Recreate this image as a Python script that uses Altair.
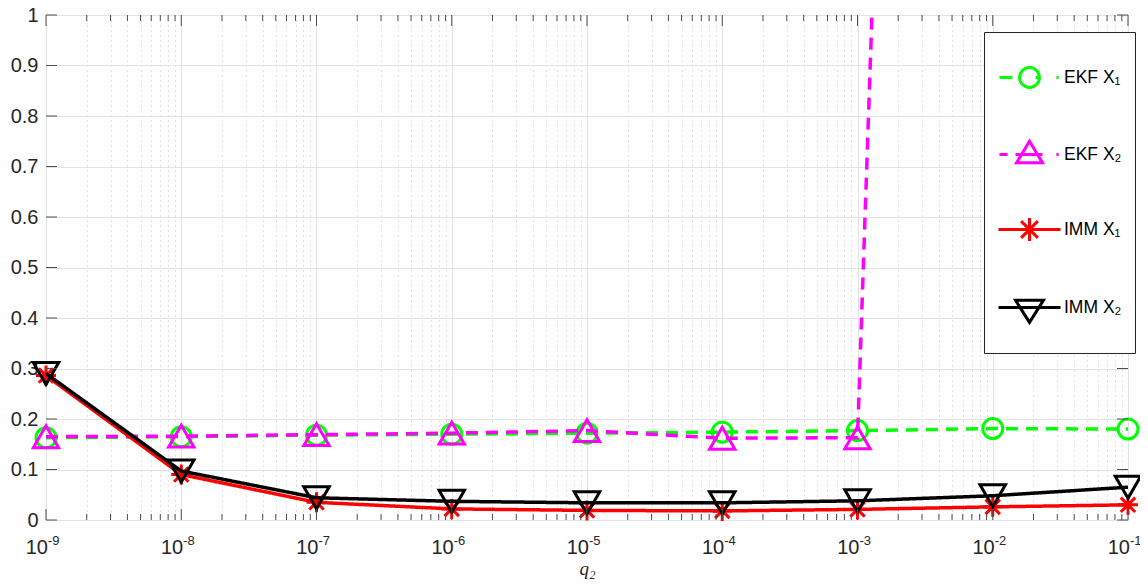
import altair as alt
import pandas as pd

# ---------------- data ----------------
q2 = [1e-9, 1e-8, 1e-7, 1e-6, 1e-5, 1e-4, 1e-3, 1e-2, 1e-1]
ekf_x1 = [0.163, 0.165, 0.168, 0.170, 0.172, 0.174, 0.177, 0.181, 0.180]
ekf_x2 = [0.165, 0.166, 0.169, 0.172, 0.177, 0.162, 0.163, 8.0, 9.0]
imm_x1 = [0.286, 0.090, 0.035, 0.022, 0.019, 0.018, 0.021, 0.026, 0.030]
imm_x2 = [0.290, 0.097, 0.044, 0.037, 0.034, 0.034, 0.038, 0.048, 0.065]
series_names = ["EKF X₁", "EKF X₂", "IMM X₁", "IMM X₂"]
series_values = [ekf_x1, ekf_x2, imm_x1, imm_x2]

x_major_ticks = [1e-9, 1e-8, 1e-7, 1e-6, 1e-5, 1e-4, 1e-3, 1e-2, 1e-1]
x_tick_base = ["10"] * 9
x_tick_exponent = ["-9", "-8", "-7", "-6", "-5", "-4", "-3", "-2", "-1"]
x_minor_ticks = [m * 10.0 ** e for e in range(-9, -1) for m in range(2, 10)]
y_ticks = [0, 0.1, 0.2, 0.3, 0.4, 0.5, 0.6, 0.7, 0.8, 0.9, 1]

# ---------------- styles ----------------
colors = ["#00ff00", "#ff00ff", "#ff0000", "#000000"]
dashes = [[12, 8], [12, 8], [1, 0], [1, 0]]
STAR = "M0,-1L0,1M-1,0L1,0M-0.72,-0.72L0.72,0.72M-0.72,0.72L0.72,-0.72"
shapes = ["circle", "triangle-up", STAR, "triangle-down"]
sizes = [400, 640, 400, 650]

legend_paths = [
    "M-0.97,0L-0.55,0M0.2,0L0.36,0M0.87,0L0.94,0"
    "M0.32,0A0.32,0.32 0 1,1 -0.32,0A0.32,0.32 0 1,1 0.32,0",
    "M-0.97,0L-0.71,0M-0.45,0L0.42,0M0.87,0L0.94,0"
    "M0,-0.43L-0.42,0.27L0.42,0.27Z",
    "M-1,0L1,0M0,-0.37L0,0.37M-0.27,-0.27L0.27,0.27M-0.27,0.27L0.27,-0.27",
    "M-1,0L1,0M-0.45,-0.23L0.45,-0.23L0,0.48Z",
]

W, H = 1082, 505
FONT = "Liberation Sans"
TXT = "#262626"
AX = "#4d4d4d"

rows = []
for name, vals in zip(series_names, series_values):
    for xv, yv in zip(q2, vals):
        rows.append({"x": xv, "y": yv, "s": name})
df = pd.DataFrame(rows)

is_major = "abs(log(datum.value)/LN10 - round(log(datum.value)/LN10)) < 0.001"

x_scale = alt.Scale(type="log", domain=[1e-9, 1e-1], nice=False)
y_scale = alt.Scale(domain=[0, 1], nice=False, zero=False)

x_axis = alt.Axis(
    values=x_major_ticks + x_minor_ticks,
    grid=True,
    gridColor={"condition": {"test": is_major, "value": "#e3e3e3"}, "value": "#c4c4c4"},
    gridDash={"condition": {"test": is_major, "value": []}, "value": [1, 4]},
    ticks=False,
    domain=False,
    labels=False,
    title="q₂",
    titleFont="Liberation Serif",
    titleFontStyle="italic",
    titleFontWeight="normal",
    titleFontSize=19,
    titleColor=TXT,
    titlePadding=39,
)
y_axis = alt.Axis(
    values=y_ticks,
    grid=True,
    gridColor="#e3e3e3",
    ticks=False,
    domain=False,
    format="~g",
    labelFont=FONT,
    labelFontSize=20,
    labelColor=TXT,
    labelPadding=8,
    title=None,
)

X = alt.X("x:Q", scale=x_scale, axis=x_axis)
Y = alt.Y("y:Q", scale=y_scale, axis=y_axis)

base = alt.Chart(df)
layers = []
for i, name in enumerate(series_names):
    sub = base.transform_filter(alt.datum.s == name)
    layers.append(
        sub.mark_line(
            clip=True, color=colors[i], strokeWidth=3.5, strokeDash=dashes[i]
        ).encode(x=X, y=Y)
    )
    layers.append(
        sub.transform_filter(alt.datum.y <= 1)
        .mark_point(
            shape=shapes[i], size=sizes[i], filled=False, strokeWidth=3,
            color=colors[i], opacity=1,
        )
        .encode(x=X, y=Y)
    )

# inward ticks (MATLAB style)
tick_df_major = pd.DataFrame({"x": x_major_ticks})
tick_df_minor = pd.DataFrame({"x": x_minor_ticks})
tick_df_y = pd.DataFrame({"y": y_ticks})
for tdf, L in [(tick_df_major, 11), (tick_df_minor, 6)]:
    layers.append(alt.Chart(tdf).mark_rule(color=AX, strokeWidth=1).encode(
        x=X, y=alt.value(H), y2=alt.value(H - L)))
    layers.append(alt.Chart(tdf).mark_rule(color=AX, strokeWidth=1).encode(
        x=X, y=alt.value(0), y2=alt.value(L)))
layers.append(alt.Chart(tick_df_y).mark_rule(color=AX, strokeWidth=1).encode(
    y=Y, x=alt.value(0), x2=alt.value(11)))
layers.append(alt.Chart(tick_df_y).mark_rule(color=AX, strokeWidth=1).encode(
    y=Y, x=alt.value(W), x2=alt.value(W - 11)))

# x tick labels: 10 with a raised exponent
lab_df = pd.DataFrame({"x": x_major_ticks, "b": x_tick_base, "e": x_tick_exponent})
layers.append(
    alt.Chart(lab_df).mark_text(
        font=FONT, fontSize=20, color=TXT, align="right", baseline="alphabetic", dx=2
    ).encode(x=X, y=alt.value(H + 34), text="b:N")
)
layers.append(
    alt.Chart(lab_df).mark_text(
        font=FONT, fontSize=13, color=TXT, align="left", baseline="alphabetic", dx=2
    ).encode(x=X, y=alt.value(H + 25), text="e:N")
)

# legend-only layer
leg_kwargs = dict(
    title=" ",
    titleOrient="bottom",
    titleFontSize=2,
    titlePadding=10,
    orient="none",
    legendX=938,
    legendY=17,
    padding=13,
    rowPadding=28,
    labelOffset=2,
    labelFont=FONT,
    labelFontSize=17.5,
    labelColor="#000000",
    symbolSize=3844,
    symbolStrokeWidth=3,
    strokeColor=TXT,
    fillColor="#ffffff",
)
leg_df = pd.DataFrame({"s": series_names, "x": [1e-5] * 4, "y": [0.5] * 4})
legend_layer = (
    alt.Chart(leg_df)
    .transform_filter("false")
    .mark_point(filled=False, strokeWidth=3, opacity=1, size=3844)
    .encode(
        x=X,
        y=Y,
        color=alt.Color(
            "s:N",
            scale=alt.Scale(domain=series_names, range=colors),
            legend=alt.Legend(**leg_kwargs),
        ),
        shape=alt.Shape(
            "s:N",
            scale=alt.Scale(domain=series_names, range=legend_paths),
            legend=alt.Legend(**leg_kwargs),
        ),
    )
)
layers.append(legend_layer)

chart = (
    alt.layer(*layers)
    .properties(
        width=W,
        height=H,
        autosize=alt.AutoSizeParams(type="none"),
        padding={"left": 38, "top": 7, "right": 12, "bottom": 59},
    )
    .configure_view(stroke=AX, strokeWidth=1)
    .configure(background="#ffffff")
)

chart.save("out.html", embed_options={"renderer": "svg", "actions": False})
